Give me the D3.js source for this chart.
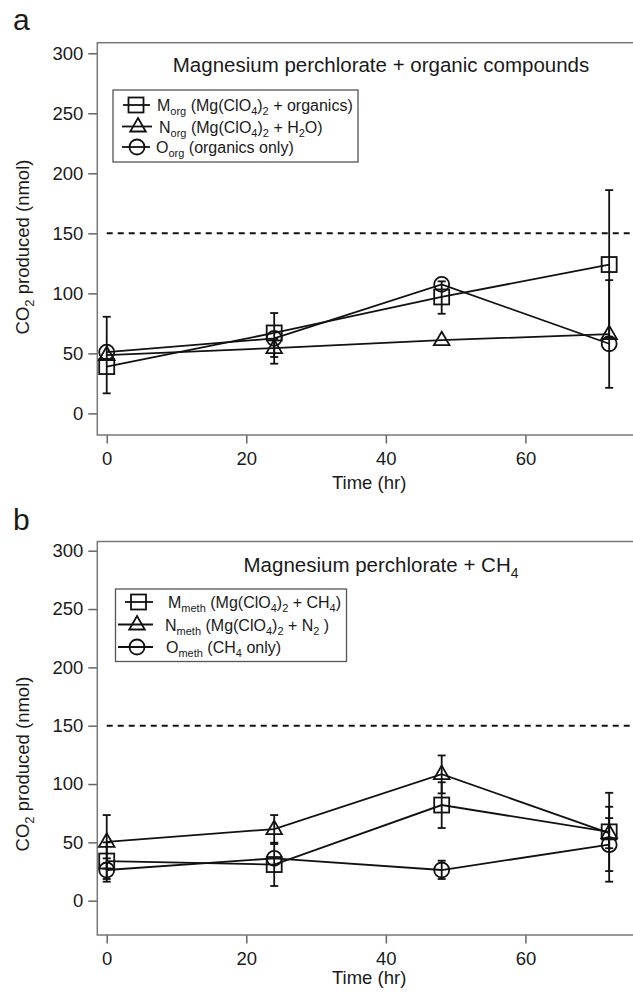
<!DOCTYPE html>
<html>
<head>
<meta charset="utf-8">
<script src="https://cdn.jsdelivr.net/npm/d3@7"></script>
<style>
  body { margin: 0; background: #fff; }
  text { font-family: "Liberation Sans", Arial, Helvetica, sans-serif; fill: #1a1a1a; }
</style>
</head>
<body>
<div id="chart"></div>
<script>
// sampling times (hr)
var times = [0, 24, 48, 72];

// panel a: magnesium perchlorate + organics, CO2 (nmol)
var orgM = [39, 67, 97, 124];
var orgN = [48.6, 54.4, 61, 66];
var orgO = [51, 62.5, 107.5, 58];
// error bars as [low, high], null where none is drawn
var orgMErr = [null, null, [83, 110], [63, 186]];
var orgNErr = [[16.7, 80.5], [47, 62], null, [21.3, 111]];
var orgOErr = [null, [41.4, 83.6], null, null];

// panel b: magnesium perchlorate + CH4
var methM = [34, 31, 82, 59];
var methN = [50.5, 61.4, 108.5, 58];
var methO = [26.3, 36.3, 26.3, 48];
var methMErr = [[18.6, 50], [12.6, 48.6], [62.3, 101.5], [25.4, 92.5]];
var methNErr = [[27.5, 73.4], [49.7, 73.4], [92, 124.5], [45, 70.8]];
var methOErr = [[16.3, 36.3], null, [18.6, 34.3], [16.3, 80.5]];

var yTicks = [0, 50, 100, 150, 200, 250, 300];
var xTicks = [0, 20, 40, 60];
var limit = 150;

var orgLabels = ["M_{org} (Mg(ClO_{4})_{2} + organics)", "N_{org} (Mg(ClO_{4})_{2} + H_{2}O)", "O_{org} (organics only)"];
var methLabels = ["M_{meth} (Mg(ClO_{4})_{2} + CH_{4})", "N_{meth} (Mg(ClO_{4})_{2} + N_{2} )", "O_{meth} (CH_{4} only)"];

window.onload = function(){
    var svg = d3.select("#chart").append("svg").attr("width", 633).attr("height", 992);

    drawPanel(svg, {
        letter: "a", letterY: 30,
        top: 42.7, bottom: 435, yDomain: [-18, 308.8],
        title: "Magnesium perchlorate + organic compounds", titleY: 72,
        labelY: 247, xTitleY: 489,
        series: [[orgM, orgMErr], [orgN, orgNErr], [orgO, orgOErr]],
        labels: orgLabels,
        legend: {x: 113, y: 90, w: 245, h: 72, rows: [105, 126.5, 147],
                 line: [[123, 150], [122, 152], [122, 150]], mark: [136, 138, 137], text: [157, 159, 156]}
    });

    drawPanel(svg, {
        letter: "b", letterY: 530,
        top: 541.5, bottom: 935, yDomain: [-29.4, 307.9],
        title: "Magnesium perchlorate + CH_{4}", titleY: 572,
        labelY: 764, xTitleY: 984,
        series: [[methM, methMErr], [methN, methNErr], [methO, methOErr]],
        labels: methLabels,
        legend: {x: 115.5, y: 589, w: 231, h: 72.5, rows: [602, 624.5, 647],
                 line: [[125, 153], [118, 153], [118, 153]], mark: [138.5, 137, 137], text: [168, 165, 166]}
    });
};

// write "abc_{sub}" strings as tspans
function richText(sel, str, size, subSize){
    var parts = str.split(/(_\{[^}]*\})/);
    var shifted = false;
    parts.forEach(function(p){
        if (p === "") return;
        if (p.indexOf("_{") === 0) {
            sel.append("tspan").attr("font-size", subSize).attr("dy", shifted ? 0 : size * 0.28).text(p.slice(2, -1));
            shifted = true;
        } else {
            sel.append("tspan").attr("font-size", size).attr("dy", shifted ? -size * 0.28 : 0).text(p);
            shifted = false;
        }
    });
}

function drawMarker(g, kind, cx, cy){
    if (kind === 0) {
        g.append("rect").attr("x", cx - 7.5).attr("y", cy - 7.5).attr("width", 15).attr("height", 15)
            .attr("fill", "none").attr("stroke", "#111").attr("stroke-width", 1.8);
    } else if (kind === 1) {
        var p = d3.symbol().type(d3.symbolTriangle).size(105)();
        g.append("path").attr("d", p).attr("transform", "translate(" + cx + "," + (cy + 0.5) + ")")
            .attr("fill", "none").attr("stroke", "#111").attr("stroke-width", 1.8);
    } else {
        g.append("circle").attr("cx", cx).attr("cy", cy).attr("r", 7.5)
            .attr("fill", "none").attr("stroke", "#111").attr("stroke-width", 1.8);
    }
}

function drawPanel(svg, cfg){
    var left = 97.3, right = 665;

    var x = d3.scaleLinear().domain([-1.35, 80]).range([left, right]);
    var y = d3.scaleLinear().domain(cfg.yDomain).range([cfg.bottom, cfg.top]);

    var g = svg.append("g");

    // panel letter
    g.append("text").attr("x", 13).attr("y", cfg.letterY).attr("font-size", 30).text(cfg.letter);

    // axes
    var yAxis = g.append("g").attr("transform", "translate(" + left + ",0)")
        .call(d3.axisLeft(y).tickValues(yTicks).tickSize(9).tickPadding(5).tickFormat(d3.format("d")));
    var xAxis = g.append("g").attr("transform", "translate(0," + cfg.bottom + ")")
        .call(d3.axisBottom(x).tickValues(xTicks).tickSize(8.5).tickPadding(8).tickFormat(d3.format("d")));
    [yAxis, xAxis].forEach(function(a){
        a.select(".domain").remove();
        a.selectAll("line").attr("stroke", "#666").attr("stroke-width", 1.5);
        a.selectAll("text").attr("font-size", 18.5).attr("fill", "#1a1a1a")
            .style("font-family", '"Liberation Sans", Arial, sans-serif');
    });

    // frame
    g.append("rect").attr("x", left).attr("y", cfg.top).attr("width", right - left).attr("height", cfg.bottom - cfg.top)
        .attr("fill", "none").attr("stroke", "#777").attr("stroke-width", 1.5);

    // axis titles
    g.append("text").attr("x", (left + 633) / 2 + 4).attr("y", cfg.xTitleY)
        .attr("text-anchor", "middle").attr("font-size", 18.5).text("Time (hr)");
    var yl = g.append("text").attr("transform", "translate(29," + cfg.labelY + ") rotate(-90)")
        .attr("text-anchor", "middle");
    richText(yl, "CO_{2} produced (nmol)", 18.5, 13);

    // title
    var tt = g.append("text").attr("x", 381).attr("y", cfg.titleY).attr("text-anchor", "middle");
    richText(tt, cfg.title, 20.5, 14);

    // dashed limit line
    g.append("line").attr("x1", x(0)).attr("x2", right).attr("y1", y(limit)).attr("y2", y(limit))
        .attr("stroke", "#111").attr("stroke-width", 2).attr("stroke-dasharray", "6,5");

    var line = d3.line().x(function(d){ return x(d[0]); }).y(function(d){ return y(d[1]); });

    cfg.series.forEach(function(s){
        var pts = times.map(function(t, i){ return [t, s[0][i]]; });
        g.append("path").attr("d", line(pts)).attr("fill", "none").attr("stroke", "#111").attr("stroke-width", 1.8);
    });

    cfg.series.forEach(function(s){
        s[1].forEach(function(e, i){
            if (!e) return;
            var cx = x(times[i]);
            g.append("line").attr("x1", cx).attr("x2", cx).attr("y1", y(e[0])).attr("y2", y(e[1]))
                .attr("stroke", "#111").attr("stroke-width", 1.8);
            e.forEach(function(v){
                g.append("line").attr("x1", cx - 4).attr("x2", cx + 4).attr("y1", y(v)).attr("y2", y(v))
                    .attr("stroke", "#111").attr("stroke-width", 1.8);
            });
        });
    });

    cfg.series.forEach(function(s, k){
        times.forEach(function(t, i){ drawMarker(g, k, x(t), y(s[0][i])); });
    });

    // legend
    var L = cfg.legend;
    g.append("rect").attr("x", L.x).attr("y", L.y).attr("width", L.w).attr("height", L.h)
        .attr("fill", "#fff").attr("stroke", "#555").attr("stroke-width", 1.3);
    cfg.labels.forEach(function(lab, k){
        var ry = L.rows[k];
        g.append("line").attr("x1", L.line[k][0]).attr("x2", L.line[k][1]).attr("y1", ry).attr("y2", ry)
            .attr("stroke", "#111").attr("stroke-width", 1.8);
        drawMarker(g, k, L.mark[k], ry);
        var t = g.append("text").attr("x", L.text[k]).attr("y", ry + 6);
        richText(t, lab, 16, 11);
    });
}
</script>
</body>
</html>
